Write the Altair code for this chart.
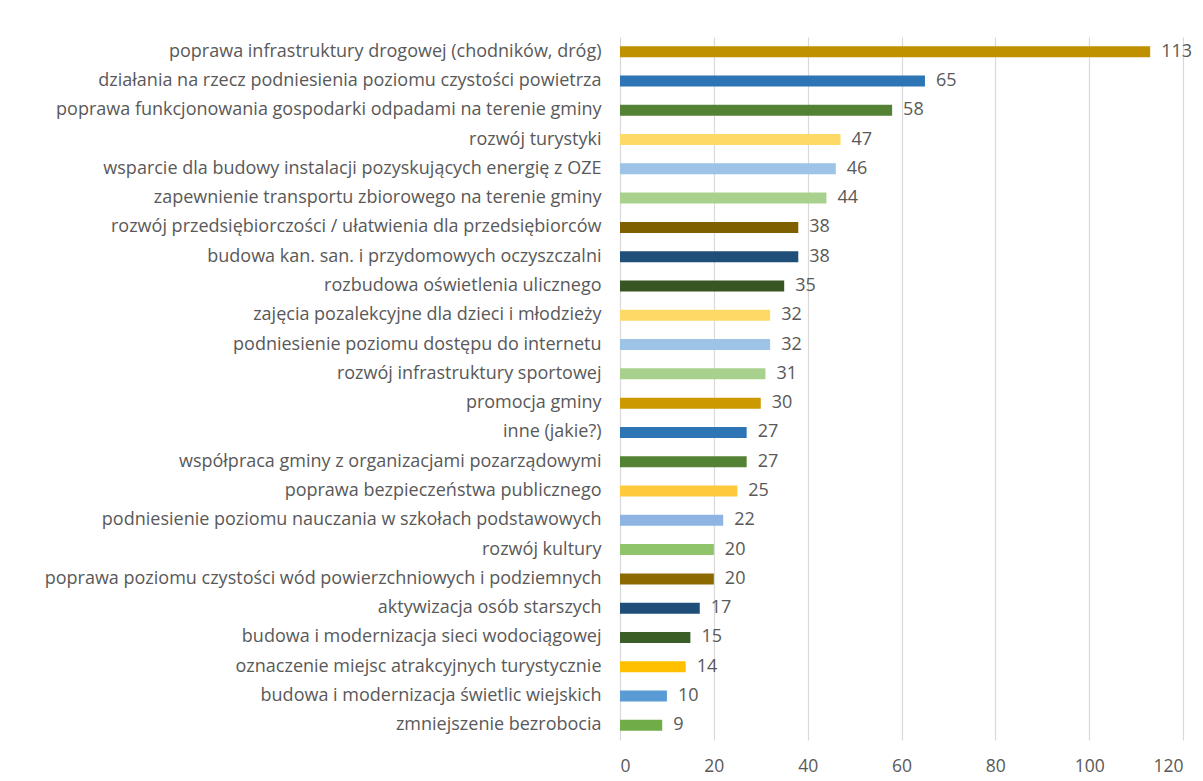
import altair as alt
import pandas as pd

categories = [
    "poprawa infrastruktury drogowej (chodników, dróg)",
    "działania na rzecz podniesienia poziomu czystości powietrza",
    "poprawa funkcjonowania gospodarki odpadami na terenie gminy",
    "rozwój turystyki",
    "wsparcie dla budowy instalacji pozyskujących energię z OZE",
    "zapewnienie transportu zbiorowego na terenie gminy",
    "rozwój przedsiębiorczości / ułatwienia dla przedsiębiorców",
    "budowa kan. san.  i przydomowych oczyszczalni",
    "rozbudowa oświetlenia ulicznego",
    "zajęcia pozalekcyjne dla dzieci i młodzieży",
    "podniesienie poziomu dostępu do internetu",
    "rozwój infrastruktury sportowej",
    "promocja gminy",
    "inne (jakie?)",
    "współpraca gminy z organizacjami pozarządowymi",
    "poprawa bezpieczeństwa publicznego",
    "podniesienie poziomu nauczania w szkołach podstawowych",
    "rozwój kultury",
    "poprawa poziomu czystości wód powierzchniowych i podziemnych",
    "aktywizacja osób starszych",
    "budowa i modernizacja sieci wodociągowej",
    "oznaczenie miejsc atrakcyjnych turystycznie",
    "budowa i modernizacja świetlic wiejskich",
    "zmniejszenie bezrobocia",
]
values = [113, 65, 58, 47, 46, 44, 38, 38, 35, 32, 32, 31, 30, 27, 27, 25, 22, 20, 20, 17, 15, 14, 10, 9]
colors = [
    "#BF9000", "#2E75B6", "#548235", "#FFD966", "#9DC3E6", "#A9D18E",
    "#7F6000", "#1F4E79", "#375623", "#FFD966", "#9DC3E6", "#A9D18E",
    "#CC9900", "#2E75B6", "#548235", "#FFC93C", "#8EB4E3", "#8FC46A",
    "#8C6A00", "#1F4E79", "#3A5F26", "#FFC000", "#5B9BD5", "#70AD47",
]
x_ticks = [0, 20, 40, 60, 80, 100, 120]

df = pd.DataFrame({"cat": categories, "val": values, "col": colors})

FONT = "Open Sans"
GRAY = "#595959"

base = alt.Chart(df).encode(
    y=alt.Y("cat:N", sort=None, title=None,
            axis=alt.Axis(labelFontSize=18, labelColor=GRAY, labelFont=FONT,
                          labelPadding=19, ticks=False, domain=False, labelLimit=700,
                          grid=False)),
)

bars = base.mark_bar(size=11).encode(
    x=alt.X("val:Q", title=None,
            scale=alt.Scale(domain=[0, 120], nice=False),
            axis=alt.Axis(values=x_ticks, labelFontSize=17.5, labelColor=GRAY, labelFont=FONT,
                          labelPadding=17, ticks=False, domain=False,
                          grid=True, gridColor="#D9D9D9", gridWidth=1.2)),
    color=alt.Color("col:N", scale=None, legend=None),
)

text = base.mark_text(align="left", baseline="middle", dx=11, fontSize=18,
                      font=FONT, color=GRAY).encode(
    x=alt.X("val:Q"),
    text=alt.Text("val:Q"),
)

chart = (bars + text).properties(
    width=563, height=703,
    padding={"left": 612, "top": 29, "right": 12, "bottom": 40},
    autosize=alt.AutoSizeParams(type="none"),
    background="white",
).configure_view(stroke=None)

chart.save("out.html", embed_options={"renderer": "svg", "actions": False})
